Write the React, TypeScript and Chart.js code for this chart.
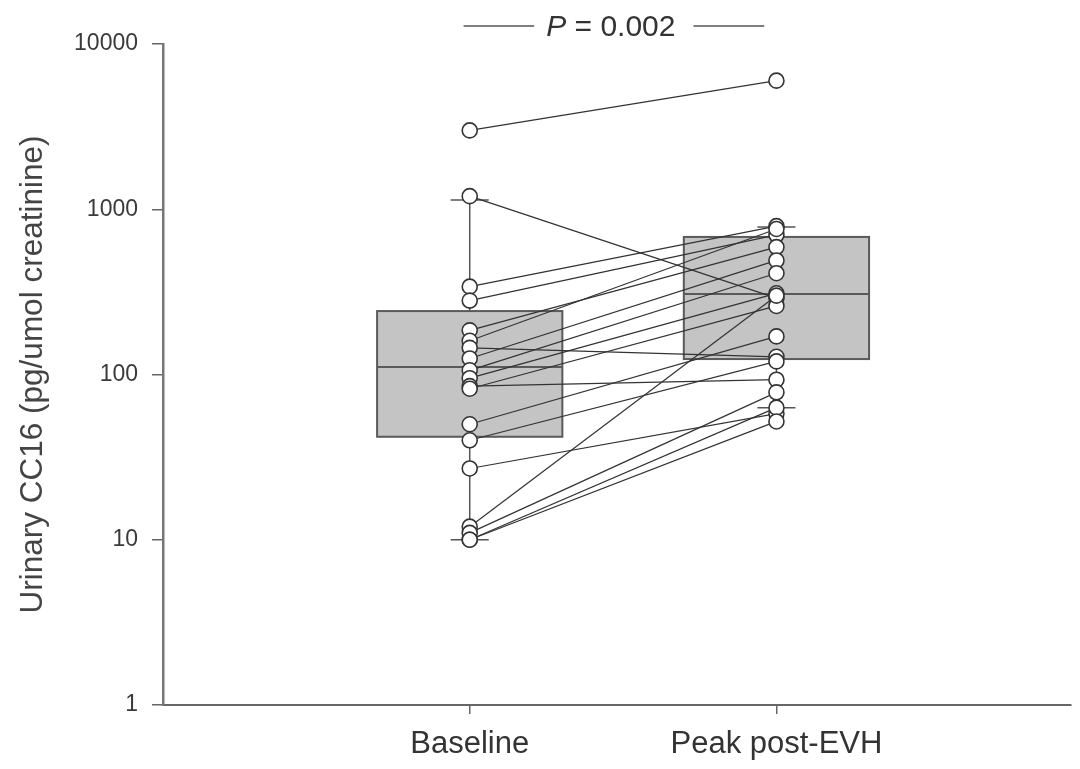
import React, { useEffect, useRef } from 'react';
import { Chart, registerables } from 'chart.js';

Chart.register(...registerables);

const categories = ['Baseline', 'Peak post-EVH'];
const categoryPositions = [1, 2];
const baselineValues = [3000, 1200, 340, 280, 185, 160, 145, 125, 106, 95, 85, 82, 50, 40, 27, 12, 11, 10, 10];
const peakValues = [6000, 290, 790, 700, 590, 760, 128, 490, 410, 310, 93, 260, 170, 120, 58, 300, 78, 63, 52];
// [lower whisker, Q1, median, Q3, upper whisker]
const baselineBox = [10, 42, 111, 242, 1137];
const peakBox = [63, 124, 307, 680, 780];
const boxStats = [baselineBox, peakBox];
const yTickValues = [1, 10, 100, 1000, 10000];
const yTitle = 'Urinary CC16 (pg/umol creatinine)';
const pValueText = '0.002';

const FONT = '"Liberation Sans", Arial, Helvetica, sans-serif';
const BOX_HALF = 0.302;
const CAP_HALF = 0.062;

const boxPlugin = {
  id: 'boxPlot',
  beforeDatasetsDraw(chart: any) {
    const { ctx, scales } = chart;
    const x = scales.x;
    const y = scales.y;
    boxStats.forEach((b, i) => {
      const pos = categoryPositions[i];
      const cx = x.getPixelForValue(pos);
      const l = x.getPixelForValue(pos - BOX_HALF);
      const r = x.getPixelForValue(pos + BOX_HALF);
      const cl = x.getPixelForValue(pos - CAP_HALF);
      const cr = x.getPixelForValue(pos + CAP_HALF);
      const yLo = y.getPixelForValue(b[0]);
      const yQ1 = y.getPixelForValue(b[1]);
      const yMed = y.getPixelForValue(b[2]);
      const yQ3 = y.getPixelForValue(b[3]);
      const yHi = y.getPixelForValue(b[4]);
      ctx.save();
      ctx.strokeStyle = '#555';
      ctx.lineWidth = 1.5;
      ctx.beginPath();
      ctx.moveTo(cx, yLo);
      ctx.lineTo(cx, yQ1);
      ctx.moveTo(cx, yQ3);
      ctx.lineTo(cx, yHi);
      ctx.moveTo(cl, yLo);
      ctx.lineTo(cr, yLo);
      ctx.moveTo(cl, yHi);
      ctx.lineTo(cr, yHi);
      ctx.stroke();
      ctx.fillStyle = '#c4c4c4';
      ctx.fillRect(l, yQ3, r - l, yQ1 - yQ3);
      ctx.strokeStyle = '#5a5a5a';
      ctx.lineWidth = 2;
      ctx.strokeRect(l, yQ3, r - l, yQ1 - yQ3);
      ctx.beginPath();
      ctx.moveTo(l, yMed);
      ctx.lineTo(r, yMed);
      ctx.stroke();
      ctx.restore();
    });
  },
};

const pPlugin = {
  id: 'pValue',
  afterDraw(chart: any) {
    const { ctx, scales } = chart;
    const x = scales.x;
    const cy = 26;
    const center = x.getPixelForValue(1.46);
    ctx.save();
    ctx.fillStyle = '#333';
    ctx.textBaseline = 'middle';
    ctx.font = `italic 30px ${FONT}`;
    const pW = ctx.measureText('P').width;
    ctx.font = `30px ${FONT}`;
    const rest = ` = ${pValueText}`;
    const rW = ctx.measureText(rest).width;
    const total = pW + rW;
    const start = center - total / 2;
    ctx.font = `italic 30px ${FONT}`;
    ctx.textAlign = 'left';
    ctx.fillText('P', start, cy + 2);
    ctx.font = `30px ${FONT}`;
    ctx.fillText(rest, start + pW, cy + 2);
    ctx.strokeStyle = '#555';
    ctx.lineWidth = 1.3;
    ctx.beginPath();
    ctx.moveTo(x.getPixelForValue(0.98), cy);
    ctx.lineTo(start - 12, cy);
    ctx.moveTo(start + total + 18, cy);
    ctx.lineTo(x.getPixelForValue(1.96), cy);
    ctx.stroke();
    ctx.restore();
  },
};

export default function App() {
  const canvasRef = useRef<HTMLCanvasElement | null>(null);

  useEffect(() => {
    if (!canvasRef.current) return;
    const lineSets = baselineValues.map((b, i) => ({
      type: 'line' as const,
      data: [
        { x: categoryPositions[0], y: b },
        { x: categoryPositions[1], y: peakValues[i] },
      ],
      borderColor: '#333',
      borderWidth: 1.2,
      pointRadius: 0,
      showLine: true,
      fill: false,
      order: 2,
    }));
    const points = [
      ...baselineValues.map((v) => ({ x: categoryPositions[0], y: v })),
      ...peakValues.map((v) => ({ x: categoryPositions[1], y: v })),
    ];
    const chart = new Chart(canvasRef.current, {
      type: 'scatter',
      data: {
        datasets: [
          ...lineSets,
          {
            type: 'scatter' as const,
            data: points,
            pointRadius: 7.5,
            pointBackgroundColor: '#ffffff',
            pointBorderColor: '#333',
            pointBorderWidth: 1.6,
            showLine: false,
            order: 0,
          },
        ] as any,
      },
      options: {
        animation: false,
        responsive: true,
        maintainAspectRatio: false,
        layout: { padding: { top: 44, right: 4, left: 0, bottom: 0 } },
        plugins: {
          legend: { display: false },
          tooltip: { enabled: false },
        },
        scales: {
          x: {
            type: 'linear',
            min: 0,
            max: 2.96,
            afterBuildTicks: (axis: any) => {
              axis.ticks = categoryPositions.map((v) => ({ value: v }));
            },
            afterFit: (axis: any) => {
              axis.height = 64;
            },
            ticks: {
              autoSkip: false,
              maxRotation: 0,
              padding: 12,
              color: '#333',
              font: { size: 31, family: FONT },
              callback: (v: any) => categories[categoryPositions.indexOf(Number(v))] ?? '',
            },
            grid: {
              drawOnChartArea: false,
              drawTicks: true,
              tickLength: 9,
              color: '#666',
              lineWidth: 1.5,
            },
            border: { display: true, color: '#666', width: 2 },
          },
          y: {
            type: 'logarithmic',
            min: 1,
            max: 10000,
            afterBuildTicks: (axis: any) => {
              axis.ticks = yTickValues.map((v) => ({ value: v }));
            },
            afterFit: (axis: any) => {
              axis.width = 163;
            },
            ticks: {
              autoSkip: false,
              padding: 14,
              color: '#3a3a3a',
              font: { size: 23, family: FONT },
              callback: (v: any) => String(v),
            },
            grid: {
              drawOnChartArea: false,
              drawTicks: true,
              tickLength: 11,
              color: '#666',
              lineWidth: 1.5,
            },
            border: { display: true, color: '#777', width: 2.5 },
            title: {
              display: true,
              text: yTitle,
              color: '#444',
              font: { size: 31.5, family: FONT },
              padding: { top: 14, bottom: 0 },
            },
          },
        },
      } as any,
      plugins: [boxPlugin, pPlugin],
    });
    return () => chart.destroy();
  }, []);

  return (
    <div style={{ position: 'fixed', left: 0, top: 0, width: 1080, height: 769, background: '#fff' }}>
      <canvas ref={canvasRef} />
    </div>
  );
}
